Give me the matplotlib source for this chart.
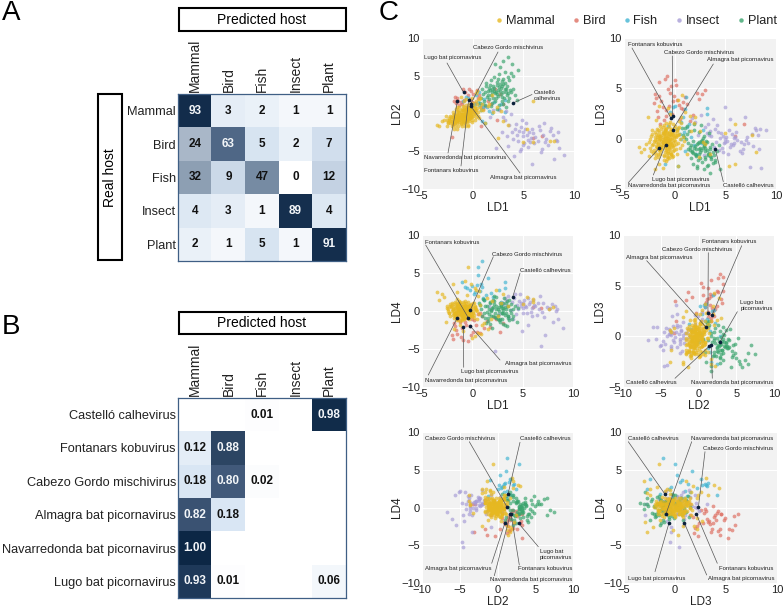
#!/usr/bin/python3
#
# host_prediction.py

import numpy as np
import matplotlib
matplotlib.use('Agg')
import matplotlib.pyplot as plt
from matplotlib.colors import LinearSegmentedColormap
from matplotlib.lines import Line2D
from matplotlib.patches import Rectangle

plt.rcParams['font.family'] = ['Liberation Sans', 'DejaVu Sans']

W, H = 783, 608

hosts = ['Mammal', 'Bird', 'Fish', 'Insect', 'Plant']
colors = ['#e6b821', '#de6f62', '#41b4d2', '#a79dd6', '#3aa46d']

matrix_a = [[93, 3, 2, 1, 1],
            [24, 63, 5, 2, 7],
            [32, 9, 47, 0, 12],
            [4, 3, 1, 89, 4],
            [2, 1, 5, 1, 91]]

virus_names = ['Castelló calhevirus', 'Fontanars kobuvirus', 'Cabezo Gordo mischivirus',
               'Almagra bat picornavirus', 'Navarredonda bat picornavirus', 'Lugo bat picornavirus']

matrix_b = [[None, None, 0.01, None, 0.98],
            [0.12, 0.88, None, None, None],
            [0.18, 0.80, 0.02, None, None],
            [0.82, 0.18, None, None, None],
            [1.00, None, None, None, None],
            [0.93, 0.01, None, None, 0.06]]

# LD1, LD2, LD3, LD4 of the six viruses, same order as virus_names
virus_ld = [(4.0, 1.4, -1.0, 1.8),
            (-0.4, 1.8, 2.1, -0.9),
            (-0.2, 1.25, 2.3, 0.1),
            (-0.2, 1.0, 0.9, -2.0),
            (-1.5, 1.7, -0.9, -0.9),
            (-0.9, 2.8, -0.6, -2.1)]

mammal = [(-0.9, -0.2, -0.2, 0.1), (-1.2, -0.5, -0.6, 0.3), (-0.6, 0.0, 0.3, -0.2), (-1.5, -0.6, -0.9, 0.5),
          (-0.3, 0.3, 0.5, -0.4), (-1.8, -0.8, -0.3, 0.7), (-0.8, -0.4, -1.0, -0.5), (-1.1, 0.0, 0.6, 0.2),
          (-0.5, -0.3, -0.5, 0.6), (-1.4, -0.2, 0.1, -0.3), (-0.1, 0.5, -0.1, 0.2), (-2.0, -1.0, -1.1, 0.0),
          (-0.7, 0.2, -1.4, 0.8), (-1.0, -0.7, 0.9, -0.7), (-1.6, -0.3, -1.5, 0.2), (-0.4, 0.1, 1.0, 0.4),
          (-1.3, -0.9, 0.4, -0.1), (-0.9, 0.3, -0.7, -0.6), (-0.2, 0.0, -1.2, 0.0), (-1.7, -1.1, 0.2, 0.4),
          (-0.6, -0.6, -0.1, 1.0), (-1.2, 0.2, 1.2, -0.4), (0.1, 0.7, 0.2, -0.2), (-2.2, -1.2, -0.6, 0.9),
          (-0.8, -0.1, -1.7, -0.9), (-1.5, -0.1, 0.7, 0.6), (-0.3, -0.4, 0.7, -1.0), (-1.0, -1.0, -0.9, 0.1),
          (0.3, 0.4, -0.4, 0.5), (-1.9, -0.5, -0.1, -0.5), (-0.5, 0.5, -1.0, 0.1), (-1.1, -0.4, 1.4, 0.9),
          (-0.7, -0.8, -0.4, -0.3), (-1.4, -0.7, -1.2, -0.7), (0.0, 0.2, 1.3, 0.7), (-2.4, -1.3, -0.9, 0.2),
          (-0.9, 0.5, 0.1, -0.1), (-1.6, -0.9, -0.5, 1.1), (-0.2, -0.2, -0.8, -0.6), (-1.3, 0.1, -0.2, 0.7),
          (-0.6, -1.1, -1.9, 0.3), (-0.4, 0.7, 0.4, 1.2), (-1.0, -0.2, -1.3, -1.1), (0.2, 0.1, 0.8, -0.5),
          (-1.8, -0.4, 0.5, -0.2), (-0.8, -0.5, 0.6, 0.5), (-1.2, -1.2, -0.3, -0.4), (-0.3, 0.9, -0.6, 0.0),
          (-2.1, -0.7, -1.4, 0.5), (-0.5, -0.1, 0.0, -0.8), (-1.5, -1.3, -0.7, 0.8), (-0.1, -0.5, 0.2, 0.9),
          (-1.0, 0.4, 0.8, -1.2), (-0.7, -0.2, -0.6, 1.3), (0.4, 0.7, 0.5, 0.1), (-1.4, 0.4, -1.0, 0.0),
          (-1.7, -0.7, 0.0, 1.2), (-0.9, -0.9, 1.1, 0.2), (-0.4, -0.7, -1.5, -0.3), (-1.1, -0.1, -0.4, -0.9),
          (-0.6, 0.3, 1.5, 0.0), (-2.3, -0.9, 0.3, -0.3), (-0.2, 0.4, -0.3, 0.8), (-1.3, -0.5, 1.0, 1.0),
          (0.1, -0.1, -1.0, -0.1), (-0.8, 0.1, -2.0, 0.5), (-1.6, -1.0, -1.8, -0.1), (-0.5, -0.4, 1.7, -0.3),
          (-1.2, -0.8, 0.0, -1.3), (-0.3, 0.2, -1.8, 0.3), (-1.9, -1.1, 0.7, 0.1), (-0.7, -0.3, 0.3, 0.4),
          (-1.0, -0.5, -0.2, -0.5), (-1.5, -0.4, 0.3, 0.9), (-0.9, -0.6, -1.1, 0.7), (-0.4, -0.1, -0.4, 0.2),
          (-1.1, -0.7, 0.5, -0.1), (-0.6, -0.3, -0.8, -0.1), (-1.3, -0.3, -0.5, 0.3), (-0.8, 0.0, 0.1, 0.3),
          (-1.2, -0.1, 0.2, 0.0), (-0.9, -0.4, 0.4, 0.6), (-0.5, 0.1, -0.3, -0.2), (-1.0, -0.3, -0.7, -0.2),
          (-1.4, -0.5, 0.0, 0.1), (-0.7, -0.6, 0.0, 0.0), (-1.6, -0.6, -0.4, -0.1), (-0.3, -0.2, 0.1, 0.1),
          (-1.1, -0.6, -0.1, 0.4), (-0.8, -0.2, -0.3, -0.3), (-0.6, -0.5, -0.7, 0.2), (-1.0, -0.1, 0.3, -0.4),
          (-1.3, -0.6, -0.8, 0.6), (-0.5, -0.2, 0.5, 0.0), (-0.4, 0.3, 0.0, -0.5), (-1.7, -0.9, -0.8, -0.2),
          (-0.2, 0.2, 0.4, 0.6), (-0.7, -0.4, -1.2, 0.4), (-1.2, -0.3, 0.7, 0.2), (-0.9, -0.8, -0.5, -0.7),
          # wider part of the core
          (-2.5, -1.6, -1.7, 0.6), (-2.2, -0.3, 0.9, -0.6), (-1.9, 0.2, -1.9, 0.9), (-1.6, 0.6, 0.4, -0.8),
          (-1.3, 0.8, -0.8, 1.1), (-1.0, 1.0, 0.9, 0.5), (-0.7, 1.1, -0.2, -0.9), (-0.4, 1.2, -1.5, 0.7),
          (0.0, 1.0, 0.6, -0.7), (0.4, 1.2, 1.2, 0.3), (0.7, 0.9, -0.6, -0.4), (0.8, 0.4, 0.2, 0.8),
          (0.5, -0.3, -0.9, 0.0), (0.2, -0.8, 0.4, -0.9), (-0.1, -1.1, -1.1, 0.5), (-0.5, -1.5, 0.8, 0.1),
          (-0.8, -1.6, -0.4, 1.0), (-1.1, -1.7, -1.6, -0.5), (-1.4, -1.7, 0.3, 0.6), (-1.7, -1.6, -0.9, -0.6),
          (-2.0, -1.6, -0.2, 1.0), (-2.3, -0.6, -1.2, -0.2), (-2.5, -0.9, -0.3, 0.4), (-1.1, 0.6, -1.7, -0.3),
          (-1.4, 0.2, 1.3, 0.3), (-1.8, 0.0, -0.7, -0.9), (-0.9, 0.8, 1.0, 1.2), (-0.6, 0.7, -0.9, 0.4),
          (-0.2, 0.8, 1.5, -0.1), (0.2, 0.4, -1.5, 0.2), (0.5, 0.2, 0.0, -1.1), (0.3, -0.4, 1.1, 0.7),
          (-0.1, -0.8, -0.6, -0.2), (-0.4, -1.0, 0.5, 0.3), (-0.8, -1.2, -1.4, -0.8), (-1.2, -1.4, 0.6, 1.2),
          (-1.5, -1.0, -0.1, -1.0), (-1.9, -1.3, -1.3, 0.3), (-2.2, -1.0, 0.5, 0.6), (-1.6, -0.2, 0.9, -0.5),
          (-1.3, -1.1, -1.0, 1.3), (-1.0, -1.3, 0.1, -0.2), (-0.7, -1.0, -1.8, 0.6), (-0.3, -0.6, 0.9, 0.8),
          (0.0, -0.3, -0.2, -0.7), (0.3, 0.0, 0.4, 0.4), (-0.5, 0.9, -1.3, -0.1), (-0.8, 0.6, 0.7, -1.0),
          (-1.2, 0.5, -0.3, 0.9), (-1.5, 0.3, -1.1, -1.2), (-1.9, -0.2, 0.2, 0.2), (-2.1, -0.4, -0.5, 0.7),
          (-0.6, 0.5, 1.2, 0.6), (-0.3, 0.6, -0.7, -0.8), (0.1, 0.4, -0.5, 1.1), (-1.7, -1.3, 1.0, -0.3),
          (-1.1, -1.0, -2.1, 0.1), (-0.9, -1.1, 1.6, 0.4), (-0.6, -0.8, 0.6, -0.5), (-1.4, -0.9, -1.5, 0.4),
          (-0.2, -0.5, -1.7, -0.5), (0.2, 0.8, 0.9, 1.0), (-1.8, -0.6, -1.6, -0.4), (-2.4, -1.1, 0.0, 0.0),
          # scatter round the core
          (-3.5, -1.5, -0.8, 2.5), (-3.0, -1.0, -1.0, 2.2), (-3.3, -1.7, -1.3, 1.4), (-2.8, -0.8, -0.5, 1.8),
          (-1.9, -1.4, -3.0, 3.5), (-1.5, -2.0, -2.5, 2.5), (-0.9, 1.6, -2.2, -2.6), (0.3, 2.7, 3.8, 3.0),
          (0.7, 2.0, 4.3, 2.6), (1.5, 1.0, 2.3, 1.7), (2.0, 0.2, 2.2, 1.3), (2.8, 0.3, -0.3, 1.0),
          (3.0, -1.0, -0.5, 2.3), (3.5, -1.5, -1.5, 0.6), (6.0, 1.7, 1.5, 1.2), (6.0, -3.8, -2.5, 1.6),
          (5.0, -3.8, 0.6, 0.9), (7.6, -3.7, 0.4, 0.3), (2.5, -3.2, 0.8, -0.7), (1.2, -1.3, -1.5, -1.6),
          (0.6, -0.6, 1.6, 2.0), (1.0, 0.5, 2.6, -1.8), (0.3, 1.6, -2.7, -3.3), (-0.4, -0.6, -1.6, 5.8),
          (-0.7, 1.9, 3.0, 3.9), (0.4, 3.0, 1.8, 2.8), (1.6, 1.3, 0.8, -2.4), (-1.2, 2.2, -2.9, -1.9),
          (-2.6, -0.3, 2.2, -1.4), (0.9, 1.2, -0.2, -3.0), (-0.1, 2.1, 1.1, 3.5), (8.0, -3.6, -1.3, 0.5),
          (1.9, 2.4, 1.6, -1.0), (-0.5, -1.6, 2.5, 2.1), (-1.8, -2.0, 1.9, -2.4), (5.4, -2.0, -2.7, 1.9),
          (0.6, 1.9, 2.2, -2.9), (-1.5, 0.9, 3.2, 1.6), (2.4, 0.9, -1.8, 2.7), (0.0, 1.4, 0.3, -3.6)]

bird = [(-1.0, 3.2, 5.9, -2.3), (-1.5, 1.7, 5.6, -3.0), (0.0, 2.6, 5.8, -1.1), (-0.5, 2.4, 4.5, -0.9),
        (-1.8, 1.6, 4.0, -1.6), (-1.5, 2.0, 4.2, -0.5), (2.2, 3.2, 4.5, -0.8), (2.7, 2.6, 4.4, -2.8),
        (6.8, -3.0, 1.5, 0.4), (-2.0, -3.1, 3.5, -3.2), (0.8, -1.7, 3.6, -2.9), (-1.2, 1.5, 3.1, -1.5),
        (-0.9, 1.8, 2.8, -0.7), (-1.6, 1.4, 2.2, -2.5), (-0.6, 0.9, 3.2, -1.9), (0.2, 1.4, 3.8, -1.2),
        (0.6, 2.4, 3.0, -0.4), (1.2, 1.0, 3.4, -2.2), (-0.3, 1.9, 2.5, -0.3), (-1.1, 1.2, 1.9, -3.4),
        (-0.2, 3.0, 3.7, -2.0), (1.5, 1.6, 1.8, -1.3), (-1.9, -1.4, 4.4, -3.7), (-0.9, -0.3, 2.3, -3.8),
        (0.5, 2.0, 2.0, -2.7), (-1.4, 1.7, 1.5, -1.0), (3.0, 1.2, 4.8, -1.6), (1.0, 0.6, 4.1, -0.7),
        (-0.8, 2.9, 6.2, -0.9), (0.1, 0.3, 5.3, -2.8), (-0.4, 3.3, 5.2, -4.0), (0.8, 0.8, 2.9, -0.2),
        (-1.3, 1.1, 3.7, 0.2), (1.8, 1.2, 2.4, -2.1), (-0.1, 1.5, 4.2, -3.1), (0.4, 3.1, 3.3, -1.8),
        (-1.7, 2.2, 2.7, -2.0), (-0.7, 0.6, 4.9, -1.4), (6.0, -3.3, 0.3, 0.5), (2.4, -0.8, 3.9, -1.0)]

fish = [(1.0, 1.3, -1.2, 6.6), (0.6, 2.9, 0.0, 5.8), (0.6, 1.1, 1.7, 4.8), (-1.0, 1.6, -2.5, 3.8),
        (0.0, 1.0, 3.2, 3.3), (0.5, 1.5, 0.5, 3.4), (3.2, 1.8, 2.5, 3.8), (3.2, 0.2, 3.0, 3.0),
        (1.0, 0.9, 2.9, 3.1), (0.2, 1.3, 1.0, 2.2), (-0.5, 2.0, 2.6, 3.0), (0.8, 0.4, 2.2, 2.6),
        (1.4, 0.8, 1.5, 2.1), (1.9, 0.1, -0.6, 2.4), (2.1, 1.5, -1.5, 1.8), (0.9, -1.0, 0.7, 3.6),
        (1.2, -1.2, 1.2, 1.5), (-0.2, 0.7, 3.1, 2.8), (2.6, 0.6, -0.4, 2.7), (1.6, 0.3, 0.2, 4.3),
        (-0.7, 2.2, 1.3, 3.1), (0.3, 2.5, -2.7, 2.5), (1.1, 1.9, 4.1, 1.7), (2.8, 1.2, 0.9, 1.2)]

insect = [(9.0, -5.5, 0.9, -2.3), (5.9, -6.7, -0.4, -0.6), (8.0, -6.0, 0.9, -1.5), (2.3, -4.6, 0.4, -5.2),
          (5.0, -3.0, 3.1, 0.4), (5.5, -3.5, 2.0, 1.7), (6.0, -2.6, 0.2, 1.4), (6.5, -1.7, -0.3, 1.0),
          (7.0, -1.3, -0.1, 1.1), (7.6, -2.3, 0.5, 0.2), (8.2, -3.5, 0.4, 0.6), (8.4, -2.4, 1.0, 0.3),
          (8.3, -3.7, -1.0, 0.0), (7.2, -3.4, -0.4, -3.2), (6.8, -4.7, -0.5, -4.6), (5.5, -4.5, -0.8, -1.8),
          (5.0, -4.2, 0.0, -0.2), (4.7, -5.0, -0.9, 2.2), (4.2, -2.0, 1.4, 2.3), (3.0, -0.4, 1.2, 0.9),
          (2.6, 0.5, 2.4, -0.4), (3.3, 0.3, 1.5, 1.4), (3.8, -0.1, 2.0, 0.1), (4.3, -1.4, 0.7, -0.4),
          (4.8, -1.8, 0.3, 1.0), (5.2, -2.1, -0.2, 0.6), (5.6, -2.4, -0.5, 0.9), (5.9, -2.0, 0.1, 0.4),
          (6.2, -3.1, -0.1, 0.7), (6.4, -3.6, -1.2, -0.5), (4.6, -2.3, 0.6, 1.3), (4.4, -2.9, -1.1, 0.8),
          (3.6, -1.5, 0.3, -0.9), (2.9, -2.5, -1.6, 1.1), (5.3, -1.3, -1.5, 0.5), (5.7, -3.8, 0.5, 1.2),
          (6.9, -2.8, 2.2, -0.1), (7.7, -1.9, -0.7, 0.4), (3.2, -0.9, 0.6, 1.7), (4.0, -3.4, 1.0, -1.0),
          (4.9, -0.8, -0.4, -2.6), (5.1, -3.9, 0.2, 1.5), (2.0, 0.4, 1.7, 0.2), (1.7, -0.4, 2.1, 0.6),
          (7.4, -4.2, -2.8, 0.5), (8.5, -4.6, -2.9, -1.0), (6.7, -5.1, -1.0, 2.0), (3.5, -4.3, 0.8, 2.0),
          (7.9, -2.9, 1.1, 0.9), (4.1, -5.6, -0.3, 1.7), (5.8, -3.2, -0.6, -0.1), (6.1, -3.9, 0.7, 0.8),
          (4.5, -3.6, 0.1, 0.2), (3.9, -2.4, -0.8, 1.2), (5.4, -2.8, 0.9, -0.3), (6.6, -2.2, -1.4, 0.3),
          (7.1, -3.8, 0.2, -0.8), (4.8, -4.7, -1.3, 0.6), (3.4, -3.0, 0.4, 0.7), (5.0, -2.4, -0.3, 1.1)]

plant = [(3.0, 7.0, -0.9, -0.3), (3.5, 7.5, -1.7, -0.6), (2.2, 6.5, -2.7, 1.3), (2.7, 6.2, -2.3, 1.1),
         (4.5, 5.7, -3.0, 0.4), (3.9, 6.5, -1.6, -1.0), (3.2, 5.5, -2.7, 0.5), (3.8, 5.4, -2.4, 0.9),
         (4.0, 5.0, -2.1, 0.2), (3.5, 4.8, -0.8, -0.7), (2.9, 4.3, -3.0, -0.2), (1.8, 4.5, -1.4, 1.0),
         (1.3, 3.7, -1.0, 0.7), (2.4, 4.2, 0.7, -0.9), (3.0, 3.9, -1.2, -1.7), (0.9, 3.2, 0.2, 0.3),
         (1.6, 3.4, -0.6, -1.3), (2.1, 3.0, -1.7, 0.5), (2.6, 3.5, -1.1, 0.0), (3.2, 3.2, -0.3, -0.5),
         (1.2, 2.8, 0.5, -0.2), (1.8, 2.5, -0.2, 1.2), (2.3, 2.9, -2.1, -0.8), (2.8, 2.6, -0.9, 0.8),
         (3.4, 2.4, -1.4, -2.0), (3.7, 3.1, -0.5, 0.1), (1.4, 2.2, 0.8, -1.6), (2.0, 3.6, -0.7, 0.4),
         (2.5, 2.3, -1.9, -1.1), (3.1, 2.0, -0.2, 1.7), (1.0, 2.6, 1.1, -0.6), (1.7, 3.1, -1.3, -0.4),
         (2.2, 2.7, -0.5, 0.9), (2.7, 3.0, -0.1, -1.4), (3.3, 2.8, -2.6, 0.2), (3.6, 2.1, -1.8, 1.4),
         (0.8, 2.1, 0.4, 0.8), (1.5, 3.0, -0.8, -0.1), (2.0, 2.0, -1.5, -2.3), (2.4, 3.8, -1.0, 0.3),
         (2.9, 1.7, 0.3, -0.3), (3.5, 1.6, -3.4, 0.6), (1.9, 1.4, 1.5, 0.1), (2.6, 1.1, 1.4, -1.2),
         (3.0, 1.3, -0.4, 1.0), (4.2, 2.4, -1.2, 0.7), (4.4, 1.8, -0.6, -1.5), (1.1, 1.7, 0.0, 1.6),
         (1.6, 1.9, -1.9, -0.9), (2.2, 1.6, -2.9, 2.0), (2.8, 3.4, 0.1, 0.6), (3.2, 4.1, -1.1, -1.9),
         (2.1, 4.9, -1.6, 1.5), (2.6, 5.2, -0.2, 0.5), (3.4, 3.6, 0.6, 1.3), (3.8, 2.9, -1.3, -0.2),
         (4.0, 3.3, -2.3, -0.7), (1.3, 4.0, -0.4, -0.9), (0.7, 1.4, 1.1, 1.0), (1.2, 1.1, 1.3, 1.5),
         (2.4, 0.6, -0.3, 1.8), (3.3, 0.9, -1.5, 1.1), (2.9, 2.2, -0.7, -1.0), (1.9, 3.3, 0.9, 0.0),
         (2.5, 4.6, -0.9, -0.5), (3.0, 4.6, -1.8, 0.4), (3.6, 4.4, -2.0, -1.2), (1.5, 2.4, -1.1, 0.6),
         (2.3, 2.1, -0.4, -0.3), (1.8, 1.0, -2.5, -1.7), (2.1, 3.4, -1.0, -0.6), (2.5, 3.1, -1.3, 0.2),
         (2.9, 3.7, -0.6, 0.4), (3.3, 3.3, -1.6, -0.3), (1.9, 2.8, -0.9, -0.7), (2.4, 2.6, -1.5, 0.7),
         (2.7, 3.9, -0.3, -1.1), (3.0, 2.9, -2.0, 0.1), (1.7, 3.8, -1.2, 0.2), (3.5, 2.7, -1.0, -0.9)]

host_points = [mammal, bird, fish, insect, plant]

# x index, y index, x limits, y limits, axes box in pixels (left, top, right, bottom)
panels = [(0, 1, (-5, 10), (-10, 10), (422, 38, 574, 189)),
          (0, 2, (-5, 10), (-5, 10), (624, 38, 776, 189)),
          (0, 3, (-5, 10), (-10, 10), (422, 235, 573, 387)),
          (1, 2, (-10, 10), (-5, 10), (623, 235, 774, 387)),
          (1, 3, (-10, 10), (-10, 10), (422, 432, 573, 583)),
          (2, 3, (-5, 10), (-10, 10), (624, 432, 777, 583))]

# per panel: virus index, text left and centre y, line start (figure pixels)
callouts = [[(2, 472.7, 47.3, 498, 52), (5, 424, 57.7, 447, 63), (0, 533.3, 95.7, 532, 94.5),
             (4, 424, 157.3, 448, 153), (1, 424, 170.7, 461, 166), (3, 490, 177.7, 520, 173)],
            [(1, 628, 44.3, 632, 48), (2, 664, 52.3, 672.3, 56), (3, 707.3, 60, 713.3, 64),
             (5, 652.3, 179.3, 653.3, 175), (4, 627.7, 185.3, 628.3, 182.7), (0, 722.7, 185.3, 723.3, 181.7)],
            [(1, 425, 242, 425.7, 245), (2, 492.3, 254.3, 493.3, 256.7), (0, 520, 270, 520, 273.3),
             (3, 505, 363.3, 500, 360), (5, 460.7, 371.7, 463.7, 367.3), (4, 425, 380.3, 428.3, 375)],
            [(1, 702, 241.7, 741.7, 245.7), (2, 662, 249.3, 708.3, 252.7), (3, 626.3, 257, 646.7, 260.7),
             (5, 740.3, 305.3, 737.3, 311.7), (0, 626.3, 382.3, 675, 378.3), (4, 691, 382.3, 712.3, 378.3)],
            [(2, 425.3, 438.3, 469.3, 441.7), (0, 519.7, 438.3, 520, 442.3), (5, 539.7, 554.3, 538.3, 546.7),
             (1, 518, 568.7, 519.3, 565), (3, 425, 568.7, 491.7, 563.3), (4, 490, 579.3, 494.3, 575.7)],
            [(0, 627.7, 438.3, 628.3, 441.7), (4, 691, 438.3, 691.7, 441.7), (2, 703.3, 448.7, 705, 451.7),
             (1, 719.3, 569, 717.3, 563.3), (3, 707.7, 578.7, 706.7, 575), (5, 628, 578.7, 655, 571.7)]]

# callouts set on two lines, as text position
wrapped = {(533.3, 95.7): 'Castelló\ncalhevirus',
           (740.3, 305.3): 'Lugo bat\npicornavirus',
           (539.7, 554.3): 'Lugo bat\npicornavirus'}

legend_dot_x = [499, 576, 627, 679, 741]
legend_text_x = [506, 583, 633, 686, 748]

cmap_a = LinearSegmentedColormap.from_list('a', [(0, '#ffffff'), (0.01, '#f1f6fb'), (0.05, '#d6e3f1'),
                                                 (0.12, '#c4d2e3'), (0.24, '#a9b7c8'), (0.32, '#8d9fb3'),
                                                 (0.47, '#778ca4'), (0.63, '#506887'), (0.89, '#16304f'),
                                                 (1, '#0c2745')])
cmap_b = LinearSegmentedColormap.from_list('b', [(0, '#ffffff'), (0.06, '#f3f7fb'), (0.12, '#e4edf7'),
                                                 (0.18, '#dae7f5'), (0.80, '#41597a'), (0.82, '#3a5272'),
                                                 (0.88, '#2d4664'), (0.93, '#1f3a5a'), (1, '#0c2745')])


def box(left, top, right, bottom):
    return [left / W, 1 - bottom / H, (right - left) / W, (bottom - top) / H]


def frame_label(fig, left, top, right, bottom, text, rotation=0):
    fig.add_artist(Rectangle((left / W, 1 - bottom / H), (right - left) / W, (bottom - top) / H,
                             transform=fig.transFigure, fc='white', ec='black', lw=1.5))
    fig.text((left + right) / 2 / W, 1 - (top + bottom) / 2 / H, text, rotation=rotation,
             ha='center', va='center', fontsize=10)


def draw_matrix(fig, rect, values, ylabels, cmap, white_from, fmt):
    ax = fig.add_axes(rect)
    arr = np.array([[np.nan if v is None else v for v in row] for row in values], dtype=float)
    vmax = 100 if fmt == '{:d}' else 1
    ax.imshow(arr, cmap=cmap, vmin=0, vmax=vmax, aspect='auto', interpolation='nearest')
    for i, row in enumerate(values):
        for j, v in enumerate(row):
            if v is None:
                continue
            ax.text(j, i, fmt.format(v), ha='center', va='center', fontweight='bold', fontsize=8.5,
                    color='#f2f5f8' if v >= white_from else '#111111')
    ax.xaxis.tick_top()
    ax.set_xticks(range(len(hosts)))
    ax.set_xticklabels(hosts, rotation=90, fontsize=10, color='#222222')
    ax.set_yticks(range(len(ylabels)))
    ax.set_yticklabels(ylabels, fontsize=9.2, color='#222222')
    ax.tick_params(length=0, pad=1.5)
    for spine in ax.spines.values():
        spine.set_color('#3f5f85')
        spine.set_linewidth(0.9)


def draw_scatter(fig, panel, notes):
    xi, yi, xlim, ylim, rect = panel
    ax = fig.add_axes(box(*rect))
    ax.set_facecolor('#f2f2f2')
    ax.grid(color='white', lw=0.8)
    ax.set_axisbelow(True)
    for spine in ax.spines.values():
        spine.set_visible(False)

    # mammals go last, they cover the others in the middle
    for k in [1, 2, 3, 4, 0]:
        pts = np.array(host_points[k])
        ax.scatter(pts[:, xi], pts[:, yi], s=7.5, color=colors[k], alpha=0.68, lw=0)

    vir = np.array(virus_ld)
    for idx, tx, ty, lx, ly in notes:
        ax.annotate('', xy=(vir[idx, xi], vir[idx, yi]), xytext=(lx / W, 1 - ly / H),
                    textcoords='figure fraction', annotation_clip=False,
                    arrowprops=dict(arrowstyle='-', color='#555555', lw=0.5, shrinkA=0, shrinkB=0))
        name = wrapped.get((tx, ty), virus_names[idx])
        fig.text(tx / W, 1 - ty / H, name, fontsize=4.3, ha='left', va='center', color='#222222', zorder=5)
    ax.scatter(vir[:, xi], vir[:, yi], s=7, color='#0b1f3a', lw=0, zorder=4)

    ax.set_xlim(xlim)
    ax.set_ylim(ylim)
    ax.set_xticks(np.arange(xlim[0], xlim[1] + 1, 5))
    ax.set_yticks(np.arange(ylim[0], ylim[1] + 1, 5))
    ax.tick_params(length=0, labelsize=8, pad=1.5, labelcolor='#222222')
    ax.set_xlabel('LD%d' % (xi + 1), fontsize=8.5, labelpad=0.5, color='#222222')
    ax.set_ylabel('LD%d' % (yi + 1), fontsize=8.5, color='#222222')
    ax.yaxis.set_label_coords(-0.125 if rect[0] < 600 else -0.11, 0.5)


if __name__ == "__main__":
    fig = plt.figure(figsize=(W / 100, H / 100), dpi=100)

    fig.text(2 / W, 1 - 13 / H, 'A', fontsize=20, ha='left', va='center')
    fig.text(2 / W, 1 - 327 / H, 'B', fontsize=20, ha='left', va='center')
    fig.text(379 / W, 1 - 13 / H, 'C', fontsize=20, ha='left', va='center')

    frame_label(fig, 178.5, 8.5, 345.5, 31, 'Predicted host')
    frame_label(fig, 98.5, 94.5, 122, 260, 'Real host', rotation=90)
    frame_label(fig, 178.5, 311.5, 345.5, 334, 'Predicted host')

    draw_matrix(fig, box(178, 94, 346, 261), matrix_a, hosts, cmap_a, 60, '{:d}')
    draw_matrix(fig, box(178, 398, 346, 598), matrix_b, virus_names, cmap_b, 0.5, '{:.2f}')

    for panel, notes in zip(panels, callouts):
        draw_scatter(fig, panel, notes)

    for k, name in enumerate(hosts):
        fig.add_artist(Line2D([legend_dot_x[k] / W], [1 - 20 / H], marker='o', ms=3.2, mew=0,
                              color=colors[k], alpha=0.8, transform=fig.transFigure))
        fig.text(legend_text_x[k] / W, 1 - 21.5 / H, name, fontsize=9.2, ha='left', va='center',
                 color='#222222')

    fig.savefig('out.png', dpi=100)
